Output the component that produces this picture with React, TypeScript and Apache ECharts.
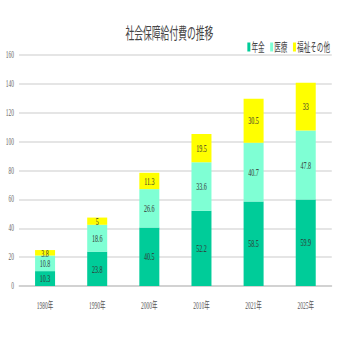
import React, { useEffect, useRef } from "react";
import * as echarts from "echarts";

const categories = ["1980年", "1990年", "2000年", "2010年", "2021年", "2025年"];
const pension = [10.3, 23.8, 40.5, 52.2, 58.5, 59.9];
const medical = [10.8, 18.6, 26.6, 33.6, 40.7, 47.8];
const welfare = [3.8, 5, 11.3, 19.5, 30.5, 33];
const seriesNames = ["年金", "医療", "福祉その他"];
const colors = ["#00CC99", "#7FFFD4", "#FFFF00"];

// The reference's lettering is horizontally condensed; the chart is laid out on a
// wider canvas and squeezed horizontally to the 339px window.
const SX = 0.55;
const W = 339 / SX;
const H = 339;
const v = (px: number) => px / SX;

const SERIF = "'Liberation Serif', 'Noto Sans CJK JP', serif";
const SANS = "'Noto Sans CJK JP', sans-serif";

export default function App() {
  const ref = useRef<HTMLDivElement>(null);
  useEffect(() => {
    if (!ref.current) return;
    const chart = echarts.init(ref.current, null, { renderer: "svg" });
    const data = [pension, medical, welfare];
    chart.setOption({
      animation: false,
      title: {
        text: "社会保障給付費の推移",
        left: "center",
        top: 19,
        textStyle: { fontSize: 16, fontWeight: "normal", color: "#444", fontFamily: SANS },
      },
      legend: {
        data: seriesNames,
        right: v(6),
        top: 36,
        itemWidth: v(3),
        itemHeight: 9,
        itemGap: v(5.5),
        icon: "rect",
        textStyle: { fontSize: 12, color: "#444", fontFamily: SANS, padding: [0, 0, 0, -3] },
      },
      grid: { left: v(19), right: v(7), top: 55, bottom: 53, containLabel: false },
      xAxis: {
        type: "category",
        data: categories,
        axisLine: { show: true, lineStyle: { color: "#ccc", width: 1.5 } },
        axisTick: { show: false },
        axisLabel: { color: "#555", fontSize: 10, margin: 15, fontFamily: SERIF },
      },
      yAxis: {
        type: "value",
        min: 0,
        max: 160,
        interval: 20,
        axisLine: { show: false },
        axisTick: { show: false },
        axisLabel: { color: "#666", fontSize: 10, margin: v(5), fontFamily: SERIF },
        splitLine: { lineStyle: { color: "#ddd", width: 1.5 } },
      },
      series: seriesNames.map((name, i) => ({
        name,
        type: "bar",
        stack: "total",
        barWidth: v(20),
        data: data[i],
        itemStyle: { color: colors[i] },
        label: {
          show: true,
          position: "inside",
          color: "#333",
          fontSize: 11,
          fontFamily: SERIF,
        },
      })),
    });
    return () => chart.dispose();
  }, []);
  return (
    <div
      style={{ position: "fixed", left: 0, top: 0, width: 339, height: 339, overflow: "hidden", background: "#fff" }}
    >
      <div
        ref={ref}
        style={{ width: W, height: H, transform: `scaleX(${SX})`, transformOrigin: "0 0" }}
      />
    </div>
  );
}
